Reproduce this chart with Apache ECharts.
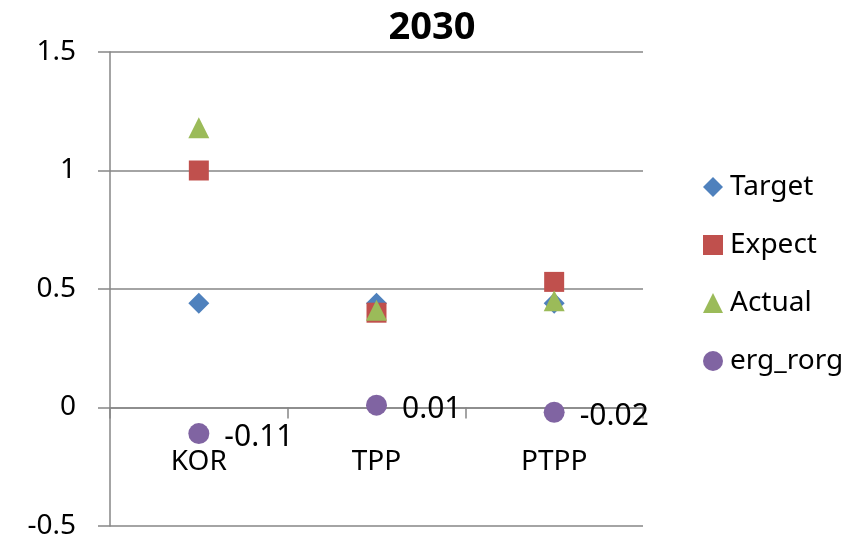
<!DOCTYPE html>
<html><head><meta charset="utf-8">
<script src="https://cdn.jsdelivr.net/npm/echarts@6/dist/echarts.min.js"></script>
<style>html,body{margin:0;padding:0;background:#fff}#c{width:864px;height:538px}</style>
</head><body><div id="c"></div>
<script>
const categories = ['KOR', 'TPP', 'PTPP'];
const target = [0.44, 0.44, 0.44];
const expect = [1.0, 0.40, 0.53];
const actual = [1.18, 0.41, 0.45];
const ergRorg = [-0.11, 0.01, -0.02];
const yTicks = [-0.5, 0, 0.5, 1, 1.5];

const FONT = 'Noto Sans';
const chart = echarts.init(document.getElementById('c'));
chart.setOption({
  animation: false,
  backgroundColor: '#fff',
  title: {
    text: '2030', left: 'center', top: 4,
    textStyle: { fontFamily: FONT, fontSize: 38, fontWeight: 'bold', color: '#000' }
  },
  legend: {
    orient: 'vertical', left: 698, top: 168,
    itemWidth: 20, itemHeight: 20, itemGap: 30,
    textStyle: { fontFamily: FONT, fontSize: 28, color: '#000', padding: [0, 0, 0, 2] },
    data: ['Target', 'Expect', 'Actual', 'erg_rorg']
  },
  grid: { left: 110, right: 221, top: 52, bottom: 12, containLabel: false, outerBoundsMode: 'none' },
  xAxis: {
    type: 'category', data: categories,
    axisLine: { onZero: true, lineStyle: { color: '#868686', width: 1.5 } },
    axisTick: { show: true, inside: false, length: 11, lineStyle: { color: '#868686', width: 1.5 } },
    axisLabel: { margin: -78, fontFamily: FONT, fontSize: 28, color: '#000' },
    splitLine: { show: false }
  },
  yAxis: {
    type: 'value', min: yTicks[0], max: yTicks[yTicks.length - 1], interval: 0.5,
    axisLine: { show: true, lineStyle: { color: '#868686', width: 1.5 } },
    axisTick: { show: true, length: 12, lineStyle: { color: '#868686', width: 1.5 } },
    axisLabel: { margin: 34, fontFamily: FONT, fontSize: 28, color: '#000' },
    splitLine: { show: true, lineStyle: { color: '#868686', width: 1.5 } }
  },
  series: [
    { name: 'Target', type: 'scatter', data: target, symbol: 'diamond', symbolSize: 21,
      itemStyle: { color: '#4F81BD', opacity: 1 } },
    { name: 'Expect', type: 'scatter', data: expect, symbol: 'rect', symbolSize: 20,
      itemStyle: { color: '#C0504D', opacity: 1 } },
    { name: 'Actual', type: 'scatter', data: actual, symbol: 'triangle', symbolSize: 21,
      itemStyle: { color: '#9BBB59', opacity: 1 } },
    { name: 'erg_rorg', type: 'scatter', data: ergRorg, symbol: 'circle', symbolSize: 21,
      itemStyle: { color: '#8064A2', opacity: 1 },
      label: { show: true, position: 'right', distance: 15, offset: [0, 4],
        fontFamily: FONT, fontSize: 30, color: '#000',
        formatter: p => p.value } }
  ]
});
</script></body></html>
